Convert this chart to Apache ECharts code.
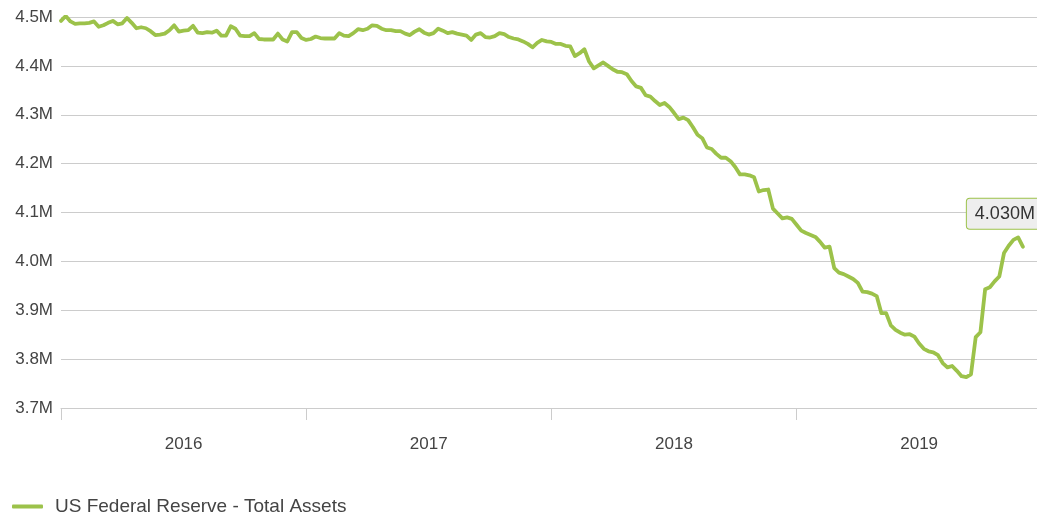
<!DOCTYPE html>
<html>
<head>
<meta charset="utf-8">
<script src="https://cdn.jsdelivr.net/npm/echarts@6/dist/echarts.min.js"></script>
<style>
  html, body { margin: 0; padding: 0; background: #fff; }
  #main { width: 1037px; height: 518px; }
</style>
</head>
<body>
<div id="main"></div>
<script>
const seriesName = 'US Federal Reserve - Total Assets'
const years = ['2016', '2017', '2018', '2019']
const yTicks = [3700, 3800, 3900, 4000, 4100, 4200, 4300, 4400, 4500]

// weekly total assets, in thousands (4492 = 4.492M)
const values2016 = [
  4492, 4502, 4491, 4486, 4487, 4487, 4488, 4491, 4480, 4483,
  4488, 4492, 4485, 4487, 4498, 4488, 4477, 4479, 4477, 4471,
  4463, 4464, 4466, 4473, 4483, 4470, 4472, 4473, 4482, 4468,
  4467, 4469, 4468, 4472, 4462, 4462, 4481, 4476, 4462, 4461,
  4461, 4467, 4455, 4454, 4454, 4454, 4466, 4454, 4450, 4469,
  4469, 4457
]
const values2017 = [
  4453, 4455, 4460, 4457, 4456, 4456, 4456, 4467, 4462, 4461,
  4467, 4475, 4473, 4476, 4483, 4482, 4476, 4473, 4473, 4471,
  4471, 4466, 4463, 4470, 4475, 4468, 4464, 4467, 4476, 4472,
  4467, 4469, 4466, 4464, 4462, 4453, 4464, 4467, 4459, 4458,
  4461, 4467, 4465, 4459, 4456, 4454, 4450, 4445, 4438, 4447,
  4453, 4450
]
const values2018 = [
  4449, 4445, 4445, 4441, 4440, 4420, 4426, 4434, 4409, 4395,
  4401, 4407, 4400, 4393, 4388, 4387, 4383, 4369, 4358, 4355,
  4340, 4337, 4328, 4320, 4324, 4316, 4304, 4291, 4294, 4289,
  4275, 4259, 4252, 4233, 4230, 4220, 4212, 4212, 4205, 4193,
  4178, 4178, 4176, 4172, 4143, 4146, 4147, 4108, 4098, 4088,
  4090, 4087
]
const values2019 = [
  4075, 4063, 4058, 4054, 4050, 4040, 4028, 4030, 3986, 3977,
  3974, 3969, 3964, 3956, 3938, 3937, 3934, 3929, 3894, 3894,
  3869, 3860, 3854, 3850, 3851, 3846, 3832, 3821, 3816, 3814,
  3808, 3792, 3783, 3786, 3776, 3765, 3763, 3769, 3845, 3855,
  3943, 3947, 3959, 3969, 4017, 4032, 4044, 4049, 4030
]

const yearValues = [values2016, values2017, values2018, values2019]
const allValues = [].concat(...yearValues)

// category per week, plus a few empty weeks so the line stops short of the edge
const categories = []
const yearStart = []
yearValues.forEach((arr, y) => {
  yearStart.push(categories.length)
  arr.forEach((v, k) => categories.push(years[y] + '-' + (k + 1)))
})
for (let k = 0; k < 3; k++) categories.push('')

const labelIndex = yearStart.map(s => s + 26)

const green = '#9cc24a'
const fontFamily = '"Liberation Sans", Arial, sans-serif'

const chartInstance = echarts.init(document.getElementById('main'))
const initOption = {
  animation: false,
  backgroundColor: '#fff',
  textStyle: { fontFamily },
  grid: { left: 61, right: 0, top: 17, bottom: 110 },
  legend: {
    left: 12,
    top: 497,
    padding: 0,
    icon: 'roundRect',
    itemWidth: 31,
    itemHeight: 4,
    textStyle: { fontSize: 19, color: '#444', padding: [0, 0, 0, 7] },
    data: [seriesName]
  },
  xAxis: {
    type: 'category',
    boundaryGap: false,
    data: categories,
    axisLine: { lineStyle: { color: '#ccc', width: 1 } },
    axisTick: {
      length: 12,
      interval: index => yearStart.includes(index),
      lineStyle: { color: '#ccc' }
    },
    axisLabel: {
      interval: index => labelIndex.includes(index),
      formatter: (value, index) => years[labelIndex.indexOf(index)],
      margin: 28,
      fontSize: 17,
      color: '#444'
    },
    splitLine: { show: false }
  },
  yAxis: {
    type: 'value',
    min: yTicks[0],
    max: yTicks[yTicks.length - 1],
    interval: 100,
    axisLine: { show: false },
    axisTick: { show: false },
    axisLabel: {
      margin: 8,
      fontSize: 17,
      color: '#444',
      formatter: v => (v / 1000).toFixed(1) + 'M'
    },
    splitLine: { lineStyle: { color: '#ccc', width: 1 } }
  },
  series: [
    {
      name: seriesName,
      type: 'line',
      data: allValues,
      showSymbol: false,
      symbol: 'none',
      lineStyle: { color: green, width: 3.8, cap: 'round', join: 'round' },
      itemStyle: { color: green },
      endLabel: {
        show: true,
        formatter: () => (allValues[allValues.length - 1] / 1000).toFixed(3) + 'M',
        offset: [-64, -33],
        fontSize: 18,
        color: '#333',
        backgroundColor: '#eee',
        borderColor: green,
        borderWidth: 1,
        borderRadius: 3,
        padding: [6, 8]
      }
    }
  ]
}
chartInstance.setOption(initOption)
</script>
</body>
</html>
